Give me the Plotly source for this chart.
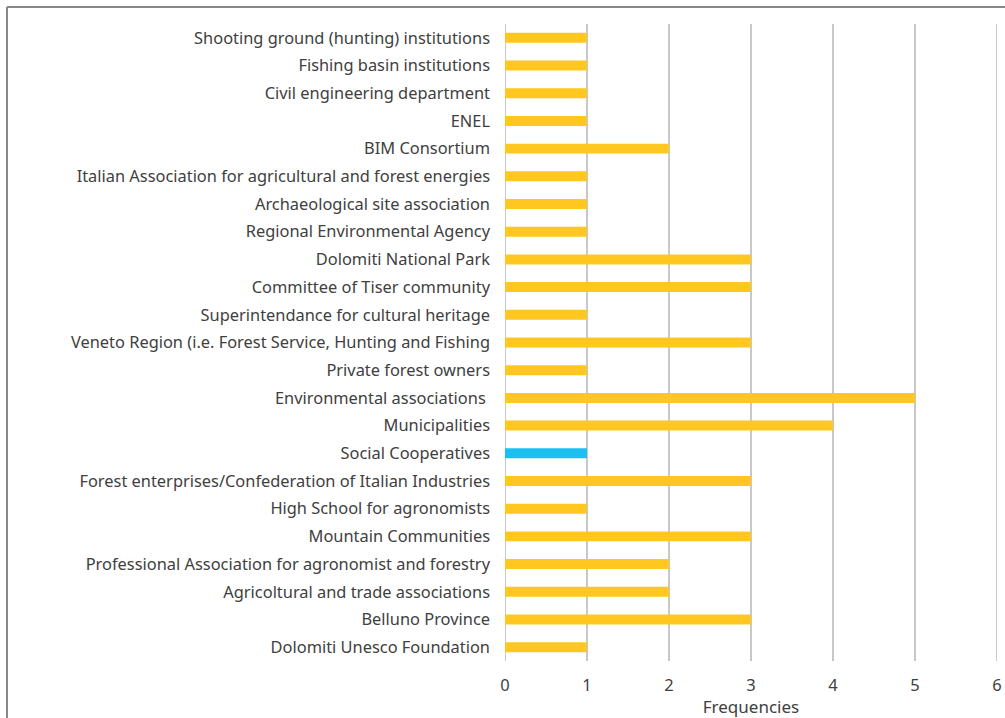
import plotly.graph_objects as go

categories = [
    "Shooting ground (hunting) institutions",
    "Fishing basin institutions",
    "Civil engineering department",
    "ENEL",
    "BIM Consortium",
    "Italian Association for agricultural and forest energies",
    "Archaeological site association",
    "Regional Environmental Agency",
    "Dolomiti National Park",
    "Committee of Tiser community",
    "Superintendance for cultural heritage",
    "Veneto Region (i.e. Forest Service, Hunting and Fishing",
    "Private forest owners",
    "Environmental associations ",
    "Municipalities",
    "Social Cooperatives",
    "Forest enterprises/Confederation of Italian Industries",
    "High School for agronomists",
    "Mountain Communities",
    "Professional Association for agronomist and forestry",
    "Agricoltural and trade associations",
    "Belluno Province",
    "Dolomiti Unesco Foundation",
]
values = [1, 1, 1, 1, 2, 1, 1, 1, 3, 3, 1, 3, 1, 5, 4, 1, 3, 1, 3, 2, 2, 3, 1]
highlight = "Social Cooperatives"
x_ticks = [0, 1, 2, 3, 4, 5, 6]

YELLOW = "#FFC720"
BLUE = "#1CC0F0"
colors = [BLUE if c == highlight else YELLOW for c in categories]

FONT = "Noto Sans"

fig = go.Figure(go.Bar(
    y=categories, x=values, orientation="h",
    marker=dict(color=colors, line=dict(width=0)),
    width=0.36,
))

L, R, T, B = 505, 997, 24, 661
W, H = 1005, 718
pw, ph = R - L, B - T

fig.update_layout(
    width=W, height=H,
    margin=dict(l=L, r=W - R, t=T, b=H - B, autoexpand=False),
    paper_bgcolor="white", plot_bgcolor="white",
    font=dict(family=FONT, size=16.4, color="#404040"),
    showlegend=False,
    xaxis=dict(
        range=[0, 6], tickvals=x_ticks, showgrid=True, gridcolor="#C8C8C8", gridwidth=2,
        zeroline=False, showline=False, ticks="", ticklen=0, ticklabelstandoff=12,
        tickfont=dict(size=16.5, family=FONT, color="#404040"),
        title=dict(text="Frequencies", font=dict(size=17, family=FONT, color="#404040"), standoff=0),
    ),
    yaxis=dict(
        autorange="reversed", showgrid=False, showline=False, zeroline=False,
        ticks="", ticklabelstandoff=14,
        tickfont=dict(size=16.4, family=FONT, color="#404040"),
    ),
    shapes=[
        dict(type="line", xref="paper", yref="paper",
             x0=(7 - L) / pw, x1=(7 - L) / pw, y0=(B - 7) / ph, y1=(B - 720) / ph,
             line=dict(color="#888888", width=2)),
        dict(type="line", xref="paper", yref="paper",
             x0=(7 - L) / pw, x1=(1010 - L) / pw, y0=(B - 7) / ph, y1=(B - 7) / ph,
             line=dict(color="#888888", width=2)),
        dict(type="line", xref="x", yref="paper", x0=x_ticks[0], x1=x_ticks[0], y0=0, y1=1,
             line=dict(color="#C8C8C8", width=2), layer="below"),
        dict(type="line", xref="x", yref="paper", x0=x_ticks[-1], x1=x_ticks[-1], y0=0, y1=1,
             line=dict(color="#C8C8C8", width=2), layer="below"),
    ],
)

fig.write_html(
    "out.html",
    config={"displayModeBar": False},
    post_script="document.body.style.margin='0';document.body.style.overflow='hidden';",
)
